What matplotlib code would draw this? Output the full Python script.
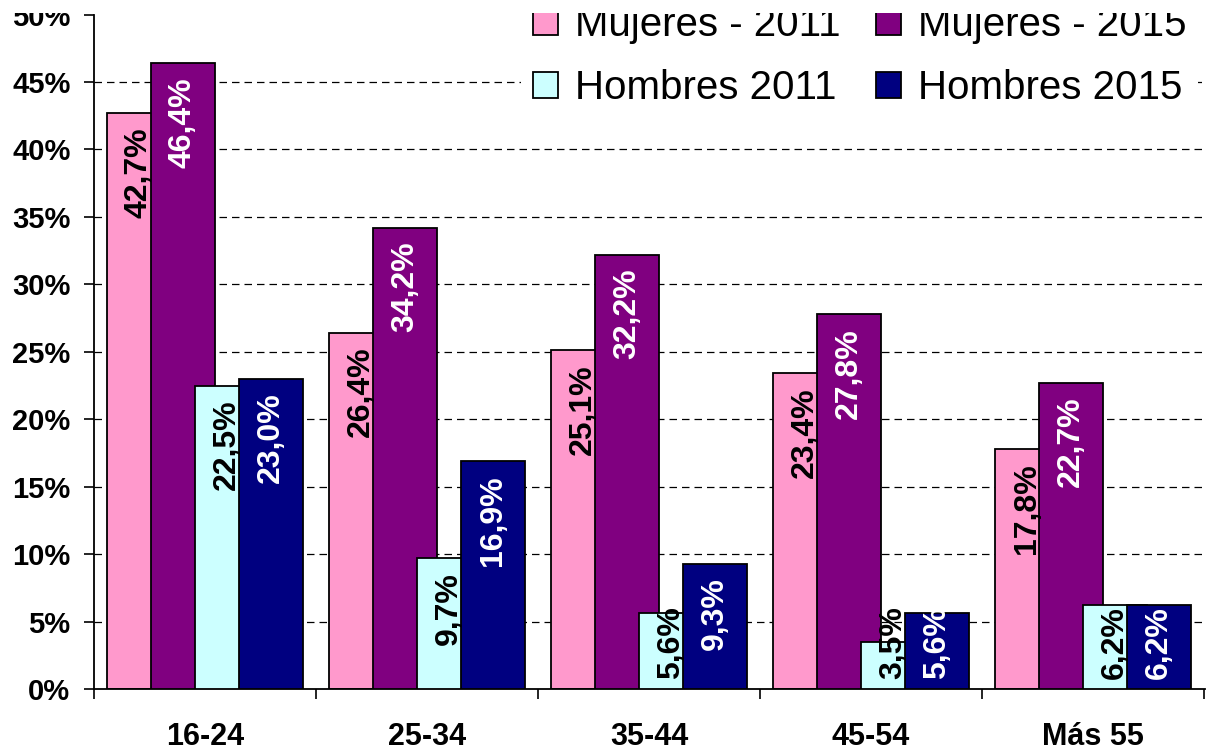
import matplotlib
matplotlib.use('Agg')
import matplotlib.pyplot as plt
from matplotlib.patches import Rectangle
import numpy as np

categories = ['16-24', '25-34', '35-44', '45-54', 'Más 55']
series_names = ['Mujeres - 2011', 'Mujeres - 2015', 'Hombres 2011', 'Hombres 2015']
mujeres_2011 = [42.7, 26.4, 25.1, 23.4, 17.8]
mujeres_2015 = [46.4, 34.2, 32.2, 27.8, 22.7]
hombres_2011 = [22.5, 9.7, 5.6, 3.5, 6.2]
hombres_2015 = [23.0, 16.9, 9.3, 5.6, 6.2]
yticks = list(range(0, 55, 5))

colors = ['#FF99CC', '#800080', '#CCFFFF', '#000080']
label_colors = ['black', 'white', 'black', 'white']

plt.rcParams['font.family'] = ['Liberation Sans', 'DejaVu Sans']

W, H = 1211, 754
fig = plt.figure(figsize=(W / 100, H / 100), dpi=100)
ax = fig.add_axes([94 / W, 65 / H, (1205 - 94) / W, (689 - 14.6) / H])

series = [mujeres_2011, mujeres_2015, hombres_2011, hombres_2015]
w = 64 / 222
step = 44 / 222
margin = (1 - (3 * step + w)) / 2
base = np.arange(len(categories)) - 0.5 + margin

handles = []
for j, vals in enumerate(series):
    x = base + j * step
    bars = ax.bar(x, vals, width=w, align='edge', color=colors[j],
                  edgecolor='black', linewidth=1.3, zorder=2 + j,
                  label=series_names[j])
    handles.append(bars)
    for xi, v in zip(x, vals):
        txt = f"{v:.1f}%".replace('.', ',')
        if v < 7:
            ax.annotate(txt, xy=(xi + w / 2, 0), xytext=(0, 7),
                        textcoords='offset points', rotation=90,
                        ha='center', va='bottom', fontsize=23,
                        fontweight='bold', color=label_colors[j], zorder=20)
        else:
            ax.annotate(txt, xy=(xi + w / 2, v), xytext=(0, -10),
                        textcoords='offset points', rotation=90,
                        ha='center', va='top', fontsize=23,
                        fontweight='bold', color=label_colors[j], zorder=20)

ax.set_xlim(-0.5, 4.5 + 1 / 222)
ax.set_ylim(0, 50)

ax.set_yticks(yticks)
ax.set_yticklabels([f"{t}%" for t in yticks], fontsize=21, fontweight='bold')
ax.tick_params(axis='y', direction='out', length=7, width=1.2, pad=10)
ax.yaxis.grid(True, linestyle=(0, (6, 4)), color='black', linewidth=0.9)
ax.set_axisbelow(True)
gl = ax.get_ygridlines()
gl[0].set_visible(False)
gl[-1].set_visible(False)

ax.set_xticks(np.arange(-0.5, len(categories), 1))
ax.set_xticklabels([])
ax.set_xticks(np.arange(len(categories)), minor=True)
ax.set_xticklabels(categories, minor=True, fontsize=22, fontweight='bold')
ax.tick_params(axis='x', which='major', direction='out', length=7, width=1.2)
ax.tick_params(axis='x', which='minor', length=0, pad=24)

for s in ['top', 'right']:
    ax.spines[s].set_visible(False)
for s in ['left', 'bottom']:
    ax.spines[s].set_linewidth(1.3)

order = [0, 2, 1, 3]
bp = 0.3
bp_px = bp * 29 * 100 / 72
leg = fig.legend([handles[i] for i in order], [series_names[i] for i in order],
                 ncol=2, loc='upper left',
                 bbox_to_anchor=((533 - bp_px) / W, 1 - (6 - bp_px) / H),
                 frameon=True, facecolor='white', edgecolor='none',
                 framealpha=1, fancybox=False,
                 fontsize=29, handlelength=0.62, handleheight=0.62,
                 handletextpad=0.42, columnspacing=0.88, labelspacing=0.62,
                 borderpad=bp, borderaxespad=0)

# the reference image is cut off just above the plot area
fig.add_artist(Rectangle((0, 1 - 13 / H), 1, 13 / H, transform=fig.transFigure,
                         facecolor='white', edgecolor='none', zorder=100))

fig.savefig('out.png', dpi=100)
